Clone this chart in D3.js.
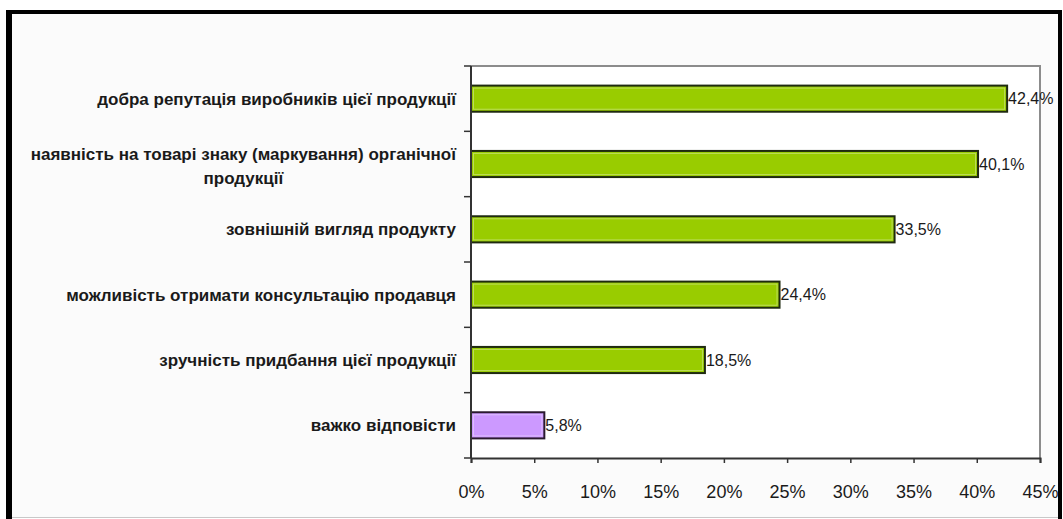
<!DOCTYPE html>
<html>
<head>
<meta charset="utf-8">
<script src="https://cdn.jsdelivr.net/npm/d3@7"></script>
<style>
  html, body { margin: 0; padding: 0; background: #ffffff; }
  svg { display: block; }
  text { font-family: "Liberation Sans", Arial, sans-serif; fill: #1a1a1a; }
</style>
</head>
<body>
<svg id="chart" width="1063" height="519"></svg>
<script>
// Чинники, що впливають на вибір органічної продукції (частка респондентів, %)
const categories = [
  ["добра репутація виробників цієї продукції"],
  ["наявність на товарі знаку (маркування) органічної", "продукції"],
  ["зовнішній вигляд продукту"],
  ["можливість отримати консультацію продавця"],
  ["зручність придбання цієї продукції "],
  ["важко відповісти"]
];
const values = [42.4, 40.1, 33.5, 24.4, 18.5, 5.8];
const valueLabels = ["42,4%", "40,1%", "33,5%", "24,4%", "18,5%", "5,8%"];
const tickValues = [0, 5, 10, 15, 20, 25, 30, 35, 40, 45];
const tickLabels = ["0%", "5%", "10%", "15%", "20%", "25%", "30%", "35%", "40%", "45%"];

const svg = d3.select("#chart");

// chart area background and frame
svg.append("rect").attr("x", 9).attr("y", 12).attr("width", 1051).attr("height", 505)
  .attr("fill", "#fbfbfb");
svg.append("line").attr("x1", 9).attr("x2", 9).attr("y1", 10).attr("y2", 519)
  .attr("stroke", "#000").attr("stroke-width", 6);
svg.append("line").attr("x1", 6).attr("x2", 1062).attr("y1", 12).attr("y2", 12)
  .attr("stroke", "#000").attr("stroke-width", 4);
svg.append("line").attr("x1", 1060).attr("x2", 1060).attr("y1", 10).attr("y2", 519)
  .attr("stroke", "#000").attr("stroke-width", 4);
svg.append("line").attr("x1", 12).attr("x2", 1058).attr("y1", 517.5).attr("y2", 517.5)
  .attr("stroke", "#c8c8c8").attr("stroke-width", 1);

const plot = { left: 471, right: 1040, top: 66, bottom: 458 };

const x = d3.scaleLinear().domain([0, 45]).range([plot.left, plot.right]);
const y = d3.scaleBand().domain(d3.range(categories.length))
  .range([plot.top, plot.bottom]).paddingInner(0.6).paddingOuter(0.3);

// plot area
svg.append("rect").attr("x", plot.left).attr("y", plot.top)
  .attr("width", plot.right - plot.left).attr("height", plot.bottom - plot.top)
  .attr("fill", "#ffffff");
svg.append("path")
  .attr("d", `M${plot.left},${plot.top}H${plot.right}V${plot.bottom}`)
  .attr("fill", "none").attr("stroke", "#8c8c8c").attr("stroke-width", 2);

// bars
const bars = svg.append("g");
bars.selectAll("rect").data(values).join("rect")
  .attr("x", x(0))
  .attr("y", (d, i) => y(i))
  .attr("width", d => x(d) - x(0))
  .attr("height", y.bandwidth())
  .attr("fill", (d, i) => i === categories.length - 1 ? "#cc99ff" : "#99cc00")
  .attr("stroke", (d, i) => i === categories.length - 1 ? "#2a1a30" : "#1f2a10")
  .attr("stroke-width", 2);
// soft inner highlight along the bar edges
bars.selectAll("rect.hl").data(values).join("rect")
  .attr("class", "hl")
  .attr("x", x(0) + 2.5)
  .attr("y", (d, i) => y(i) + 2.5)
  .attr("width", d => Math.max(0, x(d) - x(0) - 5))
  .attr("height", y.bandwidth() - 5)
  .attr("fill", "none")
  .attr("stroke", "#ffffff").attr("stroke-opacity", 0.35).attr("stroke-width", 1);

// value labels
svg.append("g").selectAll("text").data(values).join("text")
  .attr("x", d => x(d) + 1)
  .attr("y", (d, i) => y(i) + y.bandwidth() / 2)
  .attr("dy", "0.36em")
  .attr("font-size", 16)
  .text((d, i) => valueLabels[i]);

// x axis
const xAxis = d3.axisBottom(x).tickValues(tickValues)
  .tickFormat((d, i) => tickLabels[i]).tickSize(5).tickPadding(22);
const gx = svg.append("g").attr("transform", `translate(0,${plot.bottom})`).call(xAxis);
gx.select(".domain").attr("stroke", "#333").attr("stroke-width", 2);
gx.selectAll(".tick line").attr("stroke", "#333").attr("stroke-width", 1.5);
gx.selectAll(".tick text").attr("font-size", 18).attr("font-family", "Liberation Sans, Arial, sans-serif")
  .attr("fill", "#1a1a1a");

// y axis with ticks on category boundaries
const boundaries = d3.range(categories.length + 1)
  .map(i => i < categories.length ? y(i) - (y.step() - y.bandwidth()) / 2 : plot.bottom);
const gy = svg.append("g");
gy.append("line").attr("x1", plot.left).attr("x2", plot.left)
  .attr("y1", plot.top).attr("y2", plot.bottom)
  .attr("stroke", "#333").attr("stroke-width", 2);
gy.selectAll("line.t").data(boundaries).join("line")
  .attr("class", "t")
  .attr("x1", plot.left - 7).attr("x2", plot.left)
  .attr("y1", d => d).attr("y2", d => d)
  .attr("stroke", "#333").attr("stroke-width", 1.5);

// category labels
const labels = svg.append("g").attr("font-size", 17).attr("font-weight", "bold");
categories.forEach((lines, i) => {
  const cy = y(i) + y.bandwidth() / 2;
  const lh = 24;
  const t = labels.append("text")
    .attr("y", cy - (lines.length - 1) * (lh / 2 - 1.5))
    .attr("dy", "0.36em");
  if (lines.length === 1) {
    t.attr("x", plot.left - 15).attr("text-anchor", "end").text(lines[0]);
  } else {
    // wrapped label: lines centred on each other, block right-aligned
    t.attr("text-anchor", "middle");
    const tmp = labels.append("text").text(lines[0]);
    const w = tmp.node().getComputedTextLength();
    tmp.remove();
    const cx = plot.left - 15 - w / 2;
    lines.forEach((s, k) => {
      t.append("tspan").attr("x", cx).attr("dy", k === 0 ? "0.36em" : lh).text(s);
    });
    t.attr("dy", null);
  }
});
</script>
</body>
</html>
